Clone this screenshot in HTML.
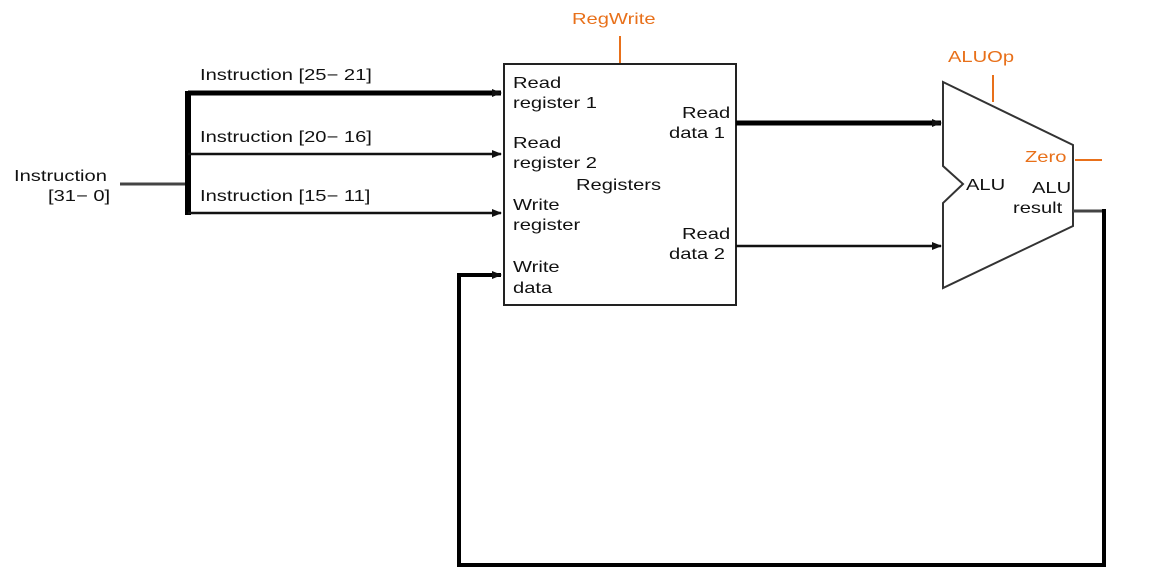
<!DOCTYPE html><html><head><style>body{margin:0;background:#fff}text{font-family:"Liberation Sans",sans-serif;font-size:15.5px;fill:#111;transform-box:fill-box;transform-origin:left center;transform:scaleX(1.3)}.o{fill:#e8701a}</style></head><body>
<svg width="1165" height="576" viewBox="0 0 1165 576" xmlns="http://www.w3.org/2000/svg">
<defs><marker id="a" markerWidth="10" markerHeight="10" refX="9" refY="5" orient="auto" markerUnits="userSpaceOnUse"><path d="M0,1 L10,5 L0,9z" fill="#111"/></marker></defs>
<rect x="504" y="64" width="232" height="241" fill="none" stroke="#222" stroke-width="2"/>
<line x1="620" y1="36" x2="620" y2="63" stroke="#e8701a" stroke-width="2"/>
<text x="572" y="24" class="o">RegWrite</text>
<text x="513" y="88">Read</text><text x="513" y="108">register 1</text>
<text x="513" y="148">Read</text><text x="513" y="168">register 2</text>
<text x="576" y="190">Registers</text>
<text x="513" y="210">Write</text><text x="513" y="230">register</text>
<text x="513" y="272">Write</text><text x="513" y="293">data</text>
<text x="682" y="118">Read</text><text x="669" y="138">data 1</text>
<text x="682" y="239">Read</text><text x="669" y="259">data 2</text>
<text x="14" y="181">Instruction</text><text x="48" y="201">[31− 0]</text>
<text x="200" y="80">Instruction [25− 21]</text>
<text x="200" y="142">Instruction [20− 16]</text>
<text x="200" y="201">Instruction [15− 11]</text>
<line x1="120" y1="184" x2="188" y2="184" stroke="#444" stroke-width="3"/>
<line x1="188" y1="91" x2="188" y2="215" stroke="#000" stroke-width="6"/>
<line x1="188" y1="93" x2="501" y2="93" stroke="#000" stroke-width="5" marker-end="url(#a)"/>
<line x1="188" y1="154" x2="501" y2="154" stroke="#111" stroke-width="2.5" marker-end="url(#a)"/>
<line x1="188" y1="213" x2="501" y2="213" stroke="#111" stroke-width="2.5" marker-end="url(#a)"/>
<line x1="736" y1="123" x2="941" y2="123" stroke="#000" stroke-width="5" marker-end="url(#a)"/>
<line x1="736" y1="246" x2="941" y2="246" stroke="#111" stroke-width="2.5" marker-end="url(#a)"/>
<path d="M943,82 L1073,145 L1073,226 L943,288 L943,203 L963,184 L943,166 Z" fill="none" stroke="#333" stroke-width="2"/>
<text x="966" y="190">ALU</text>
<text x="1032" y="193">ALU</text><text x="1013" y="213">result</text>
<text x="948" y="62" class="o">ALUOp</text>
<line x1="993" y1="75" x2="993" y2="102" stroke="#e8701a" stroke-width="2"/>
<text x="1025" y="162" class="o">Zero</text>
<line x1="1075" y1="160" x2="1102" y2="160" stroke="#e8701a" stroke-width="2"/>
<line x1="1073" y1="211" x2="1104" y2="211" stroke="#444" stroke-width="3"/>
<polyline points="1104,209 1104,565 459,565 459,275 501,275" fill="none" stroke="#000" stroke-width="4" marker-end="url(#a)"/>
</svg></body></html>
